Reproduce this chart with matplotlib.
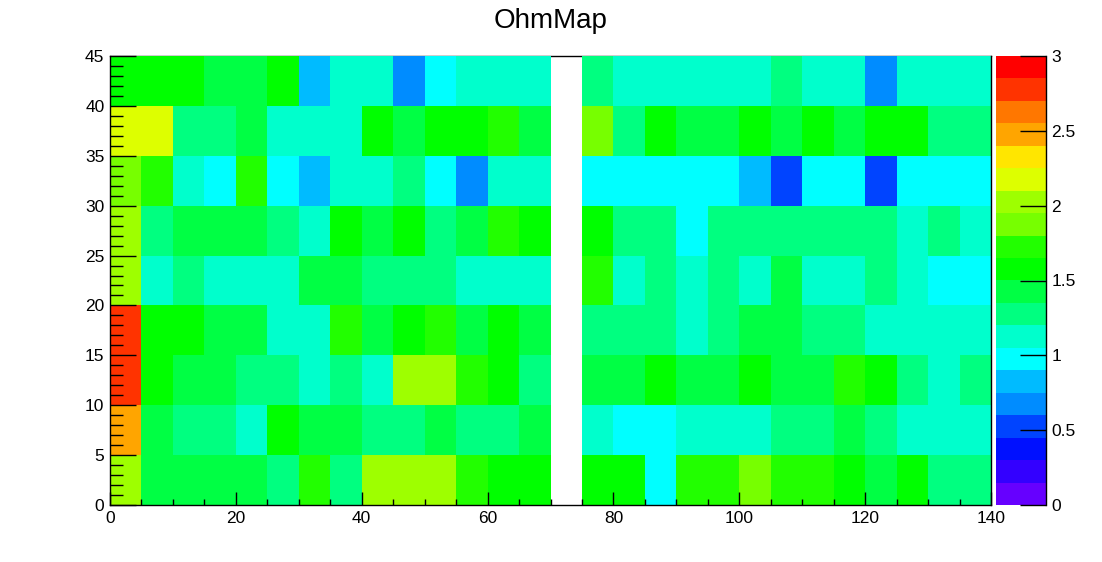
import numpy as np
import matplotlib
matplotlib.use("Agg")
import matplotlib.pyplot as plt
from matplotlib.colors import ListedColormap, BoundaryNorm
from matplotlib.ticker import MultipleLocator

plt.rcParams['font.family'] = ['Liberation Sans', 'DejaVu Sans']

nan = np.nan
# bins of 5 along x (0..140) and y (0..45); column 70-75 is empty
x_edges = np.arange(0, 145, 5)
y_edges = np.arange(0, 50, 5)

row_00_05 = [2.03, 1.43, 1.43, 1.43, 1.43, 1.28, 1.73, 1.28, 2.03, 2.03, 2.03, 1.73, 1.58, 1.58, nan,
             1.58, 1.58, 0.98, 1.73, 1.73, 1.88, 1.73, 1.73, 1.58, 1.43, 1.58, 1.28, 1.28]
row_05_10 = [2.48, 1.43, 1.28, 1.28, 1.13, 1.58, 1.43, 1.43, 1.28, 1.28, 1.43, 1.28, 1.28, 1.43, nan,
             1.13, 0.98, 0.98, 1.13, 1.13, 1.13, 1.28, 1.28, 1.43, 1.28, 1.13, 1.13, 1.13]
row_10_15 = [2.78, 1.58, 1.43, 1.43, 1.28, 1.28, 1.13, 1.28, 1.13, 2.03, 2.03, 1.73, 1.58, 1.28, nan,
             1.43, 1.43, 1.58, 1.43, 1.43, 1.58, 1.43, 1.43, 1.73, 1.58, 1.28, 1.13, 1.28]
row_15_20 = [2.78, 1.58, 1.58, 1.43, 1.43, 1.13, 1.13, 1.73, 1.43, 1.58, 1.73, 1.43, 1.58, 1.43, nan,
             1.28, 1.28, 1.28, 1.13, 1.28, 1.43, 1.43, 1.28, 1.28, 1.13, 1.13, 1.13, 1.13]
row_20_25 = [2.03, 1.13, 1.28, 1.13, 1.13, 1.13, 1.43, 1.43, 1.28, 1.28, 1.28, 1.13, 1.13, 1.13, nan,
             1.73, 1.13, 1.28, 1.13, 1.28, 1.13, 1.43, 1.13, 1.13, 1.28, 1.13, 0.98, 0.98]
row_25_30 = [2.03, 1.28, 1.43, 1.43, 1.43, 1.28, 1.13, 1.58, 1.43, 1.58, 1.28, 1.43, 1.73, 1.58, nan,
             1.58, 1.28, 1.28, 0.98, 1.28, 1.28, 1.28, 1.28, 1.28, 1.28, 1.13, 1.28, 1.13]
row_30_35 = [1.88, 1.73, 1.13, 0.98, 1.73, 0.98, 0.83, 1.13, 1.13, 1.28, 0.98, 0.68, 1.13, 1.13, nan,
             0.98, 0.98, 0.98, 0.98, 0.98, 0.83, 0.53, 0.98, 0.98, 0.53, 0.98, 0.98, 0.98]
row_35_40 = [2.18, 2.18, 1.28, 1.28, 1.43, 1.13, 1.13, 1.13, 1.58, 1.43, 1.58, 1.58, 1.73, 1.43, nan,
             1.88, 1.28, 1.58, 1.43, 1.43, 1.58, 1.43, 1.58, 1.43, 1.58, 1.58, 1.28, 1.28]
row_40_45 = [1.58, 1.58, 1.58, 1.43, 1.43, 1.58, 0.83, 1.13, 1.13, 0.68, 0.98, 1.13, 1.13, 1.13, nan,
             1.28, 1.13, 1.13, 1.13, 1.13, 1.13, 1.28, 1.13, 1.13, 0.68, 1.13, 1.13, 1.13]

# ROOT-like 20 level rainbow palette, 0 -> 3
palette = ['#6600ff', '#3300ff', '#0010ff', '#0044ff', '#008cff', '#00bbff', '#00ffff',
           '#00ffcc', '#00ff80', '#00ff44', '#00ff00', '#22ff00', '#77ff00', '#9eff00',
           '#ddff00', '#ffe600', '#ffa500', '#ff7700', '#ff3300', '#ff0000']
levels = np.linspace(0, 3, 21)

z = np.array([row_00_05, row_05_10, row_10_15, row_15_20, row_20_25,
              row_25_30, row_30_35, row_35_40, row_40_45])
z = np.ma.masked_invalid(z)

cmap = ListedColormap(palette)
norm = BoundaryNorm(levels, cmap.N)

fig = plt.figure(figsize=(11.02, 5.62), dpi=100)
ax = fig.add_axes([110 / 1102, 57 / 562, 881 / 1102, 449 / 562])
cax = fig.add_axes([996 / 1102, 57 / 562, 50 / 1102, 449 / 562])

mesh = ax.pcolormesh(x_edges, y_edges, z, cmap=cmap, norm=norm, zorder=1)
ax.set_xlim(0, 140)
ax.set_ylim(0, 45)
ax.spines['top'].set_zorder(0.5)
for s in ax.spines.values():
    s.set_linewidth(1.0)

ax.xaxis.set_major_locator(MultipleLocator(20))
ax.xaxis.set_minor_locator(MultipleLocator(5))
ax.yaxis.set_major_locator(MultipleLocator(5))
ax.yaxis.set_minor_locator(MultipleLocator(1))
ax.tick_params(axis='x', which='major', direction='in', length=9.7, width=1, labelsize=12.5, pad=4)
ax.tick_params(axis='x', which='minor', direction='in', length=4.5, width=1)
ax.tick_params(axis='y', which='major', direction='in', length=19, width=1, labelsize=12.5, pad=4)
ax.tick_params(axis='y', which='minor', direction='in', length=9.5, width=1)

ax.set_title('OhmMap', fontsize=20, pad=20)

# palette axis
cb = fig.colorbar(mesh, cax=cax, ticks=[0, 0.5, 1, 1.5, 2, 2.5, 3])
cb.outline.set_visible(False)
cb.ax.set_yticklabels(['0', '0.5', '1', '1.5', '2', '2.5', '3'])
cb.ax.tick_params(axis='y', which='major', direction='in', length=18.5, width=1,
                  labelsize=12.5, pad=4, right=True, left=False)
cb.ax.minorticks_off()
cb.ax.axvline(1, color='black', lw=1, clip_on=False)

fig.savefig('out.png', dpi=100)
